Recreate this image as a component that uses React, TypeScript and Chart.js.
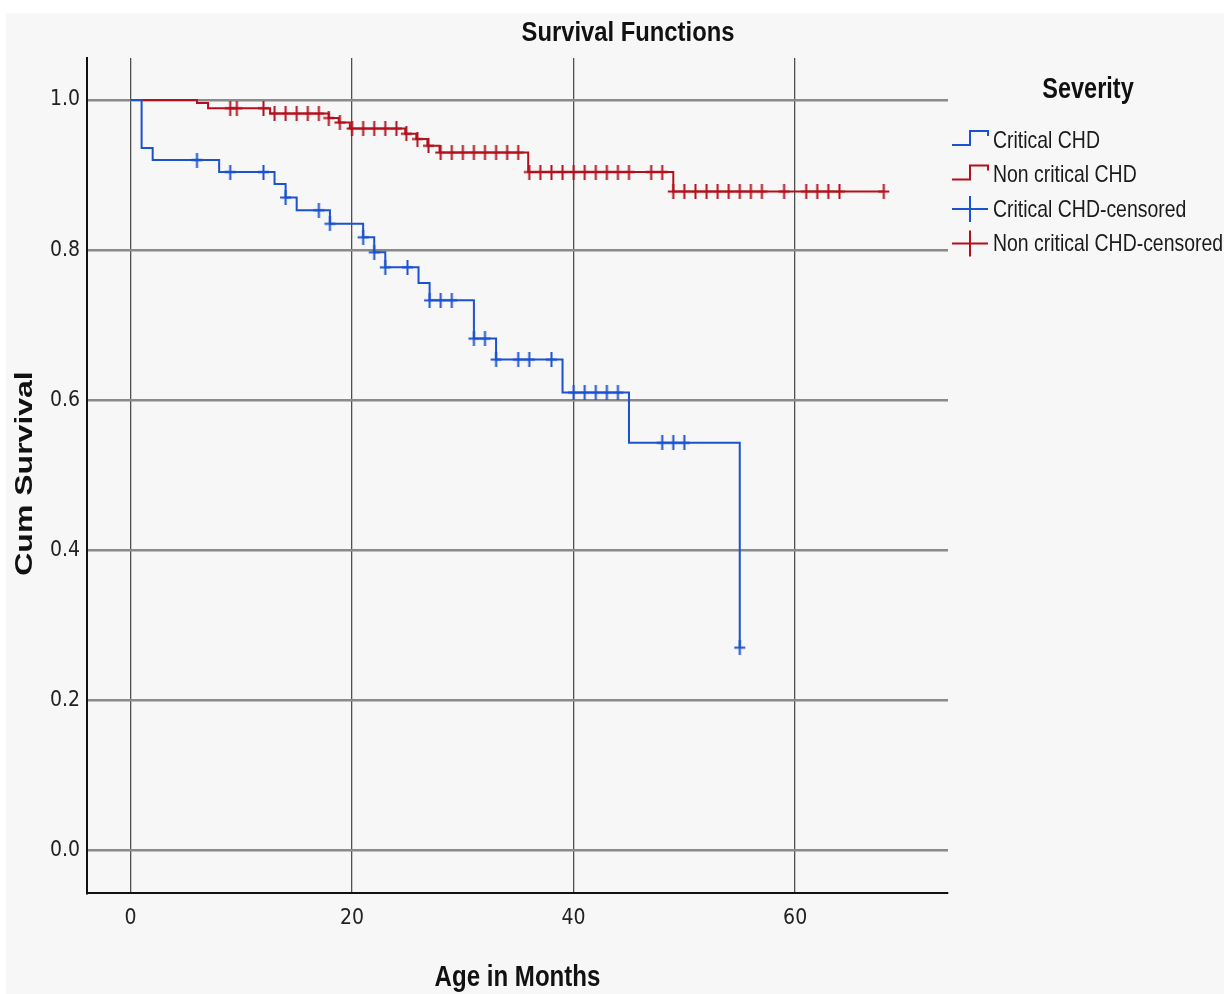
import React, { useEffect, useRef } from "react";
import { Chart, registerables } from "chart.js";
Chart.register(...registerables);

// ---- Data ----
const criticalTime = [0, 1, 2, 8, 13, 14, 15, 18, 21, 22, 23, 26, 27, 31, 33, 39, 45, 55];
const criticalSurvival = [1.0, 0.936, 0.92, 0.904, 0.888, 0.87, 0.853, 0.835, 0.817, 0.797, 0.777, 0.756, 0.733, 0.682, 0.654, 0.61, 0.543, 0.27];
const criticalCensorTime = [6, 9, 12, 14, 17, 18, 21, 22, 23, 25, 27, 28, 29, 31, 32, 33, 35, 36, 38, 40, 41, 42, 43, 44, 48, 49, 50, 55];
const criticalCensorSurvival = [0.92, 0.904, 0.904, 0.87, 0.853, 0.835, 0.817, 0.797, 0.777, 0.777, 0.733, 0.733, 0.733, 0.682, 0.682, 0.654, 0.654, 0.654, 0.654, 0.61, 0.61, 0.61, 0.61, 0.61, 0.543, 0.543, 0.543, 0.27];

const nonCriticalTime = [0, 6, 7, 12.6, 17.9, 18.8, 19.8, 24.8, 25.8, 26.8, 27.9, 35.9, 49, 68];
const nonCriticalSurvival = [1.0, 0.996, 0.989, 0.982, 0.976, 0.97, 0.962, 0.955, 0.948, 0.939, 0.93, 0.904, 0.878, 0.878];
const nonCriticalCensorTime = [9, 9.6, 12, 13, 14, 15, 16, 17, 17.9, 18.9, 20, 21, 22, 23, 24, 24.9, 25.9, 26.9, 28, 29, 30, 31, 32, 33, 34, 35, 36, 37, 38, 39, 40, 41, 42, 43, 44, 45, 47, 48, 49, 50, 51, 52, 53, 54, 55, 56, 57, 59, 61, 62, 63, 64, 68];
const nonCriticalCensorSurvival = [0.989, 0.989, 0.989, 0.982, 0.982, 0.982, 0.982, 0.982, 0.976, 0.97, 0.962, 0.962, 0.962, 0.962, 0.962, 0.955, 0.948, 0.939, 0.93, 0.93, 0.93, 0.93, 0.93, 0.93, 0.93, 0.93, 0.904, 0.904, 0.904, 0.904, 0.904, 0.904, 0.904, 0.904, 0.904, 0.904, 0.904, 0.904, 0.878, 0.878, 0.878, 0.878, 0.878, 0.878, 0.878, 0.878, 0.878, 0.878, 0.878, 0.878, 0.878, 0.878, 0.878];

const xTicks = [0, 20, 40, 60];
const yTicks = [0, 0.2, 0.4, 0.6, 0.8, 1.0];
const legendLabels = ["Critical CHD", "Non critical CHD", "Critical CHD-censored", "Non critical CHD-censored"];

const BLUE = "#1b52d0";
const RED = "#b3101d";
const CONDENSED = "'DejaVu Sans Condensed', 'Liberation Sans Narrow', sans-serif";
const SANS = "'Liberation Sans', Arial, sans-serif";

function makeCross(color: string) {
  const c = document.createElement("canvas");
  c.width = 13;
  c.height = 15;
  const g = c.getContext("2d")!;
  g.strokeStyle = color;
  g.lineWidth = 2;
  g.beginPath();
  g.moveTo(1, 7.5);
  g.lineTo(12, 7.5);
  g.moveTo(6.5, 0);
  g.lineTo(6.5, 15);
  g.stroke();
  return c;
}

// draw horizontally compressed text
function sText(ctx: CanvasRenderingContext2D, text: string, x: number, y: number, font: string, sx: number, align: CanvasTextAlign) {
  ctx.save();
  ctx.translate(x, y);
  ctx.scale(sx, 1);
  ctx.font = font;
  ctx.textAlign = align;
  ctx.textBaseline = "middle";
  ctx.fillText(text, 0, 0);
  ctx.restore();
}

const textPlugin = {
  id: "texts",
  afterDraw(chart: any) {
    const ctx = chart.ctx as CanvasRenderingContext2D;
    const area = chart.chartArea;
    ctx.save();
    ctx.fillStyle = "#111";
    // Title
    sText(ctx, "Survival Functions", 622, 20, `bold 28px ${SANS}`, 0.85, "center");
    // X title
    sText(ctx, "Age in Months", (area.left + area.right) / 2, 965, `bold 29px ${SANS}`, 0.83, "center");
    // Y title (rotated, compressed across)
    ctx.save();
    ctx.translate(26, (area.top + area.bottom) / 2 - 2);
    ctx.scale(0.77, 1);
    ctx.rotate(-Math.PI / 2);
    ctx.font = `bold 32px ${SANS}`;
    ctx.textBaseline = "alphabetic";
    ctx.textAlign = "center";
    ctx.fillText("Cum Survival", 0, 0);
    ctx.restore();

    // Legend
    sText(ctx, "Severity", 1082, 77, `bold 29px ${SANS}`, 0.81, "center");
    const rows = [128, 162.5, 197, 231.5];
    const colors = [BLUE, RED, BLUE, RED];
    rows.forEach((ry, i) => {
      ctx.strokeStyle = colors[i];
      ctx.lineWidth = 2;
      ctx.beginPath();
      if (i < 2) {
        ctx.moveTo(946, ry + 4);
        ctx.lineTo(964, ry + 4);
        ctx.lineTo(964, ry - 10);
        ctx.lineTo(982, ry - 10);
        ctx.lineTo(982, ry - 5);
      } else {
        ctx.moveTo(946, ry - 1);
        ctx.lineTo(982, ry - 1);
        ctx.moveTo(964, ry - 14);
        ctx.lineTo(964, ry + 12);
      }
      ctx.stroke();
      ctx.fillStyle = "#1a1a1a";
      sText(ctx, legendLabels[i], 987, ry, `24px ${SANS}`, 0.81, "left");
    });
    ctx.restore();
  },
};

export default function App() {
  const ref = useRef<HTMLCanvasElement>(null);
  useEffect(() => {
    const canvas = ref.current!;
    const blueCross = makeCross(BLUE);
    const redCross = makeCross(RED);
    const toPts = (xs: number[], ys: number[]) => xs.map((x, i) => ({ x, y: ys[i] }));
    const chart = new Chart(canvas, {
      type: "line",
      data: {
        datasets: [
          {
            label: "Critical CHD-censored",
            data: toPts(criticalCensorTime, criticalCensorSurvival),
            showLine: false,
            pointStyle: blueCross as any,
            pointRadius: 7,
            borderColor: BLUE,
            backgroundColor: BLUE,
            order: 0,
          },
          {
            label: "Non critical CHD-censored",
            data: toPts(nonCriticalCensorTime, nonCriticalCensorSurvival),
            showLine: false,
            pointStyle: redCross as any,
            pointRadius: 7,
            borderColor: RED,
            backgroundColor: RED,
            order: 0,
          },
          {
            label: "Critical CHD",
            data: toPts(criticalTime, criticalSurvival),
            stepped: "before",
            borderColor: BLUE,
            borderWidth: 2,
            pointRadius: 0,
            fill: false,
            order: 1,
          },
          {
            label: "Non critical CHD",
            data: toPts(nonCriticalTime, nonCriticalSurvival),
            stepped: "before",
            borderColor: RED,
            borderWidth: 2,
            pointRadius: 0,
            fill: false,
            order: 1,
          },
        ],
      },
      options: {
        responsive: false,
        animation: false,
        devicePixelRatio: 1,
        layout: { padding: { top: 45, right: 276, bottom: 0, left: 0 } },
        plugins: {
          legend: { display: false },
          title: { display: false },
          tooltip: { enabled: false },
        },
        scales: {
          x: {
            type: "linear",
            min: -3.93,
            max: 73.8,
            afterBuildTicks: (s: any) => {
              s.ticks = xTicks.map((v) => ({ value: v }));
            },
            afterFit: (s: any) => {
              s.height = 101;
            },
            grid: { color: "#505050", lineWidth: 1.3, drawTicks: false },
            border: { display: true, color: "#111", width: 2 },
            ticks: {
              padding: 13,
              color: "#222",
              font: { family: CONDENSED, size: 21 },
              maxRotation: 0,
              callback: (v: any) => String(v),
            },
          },
          y: {
            type: "linear",
            min: -0.057,
            max: 1.056,
            afterBuildTicks: (s: any) => {
              s.ticks = yTicks.map((v) => ({ value: v }));
            },
            afterFit: (s: any) => {
              s.width = 81;
            },
            grid: { color: "#8a8a8a", lineWidth: 2.5, drawTicks: false },
            border: { display: true, color: "#111", width: 2 },
            ticks: {
              padding: 7,
              color: "#222",
              font: { family: CONDENSED, size: 21 },
              callback: (v: any) => Number(v).toFixed(1),
            },
          },
        },
      },
      plugins: [textPlugin],
    } as any);
    return () => chart.destroy();
  }, []);

  return (
    <div style={{ position: "fixed", left: 0, top: 0, width: 1224, height: 994, background: "#fff" }}>
      <div style={{ position: "absolute", left: 6, top: 13, width: 1218, height: 981, background: "#f7f7f7" }}>
        <canvas ref={ref} width={1218} height={981} style={{ display: "block", width: 1218, height: 981 }} />
      </div>
    </div>
  );
}
